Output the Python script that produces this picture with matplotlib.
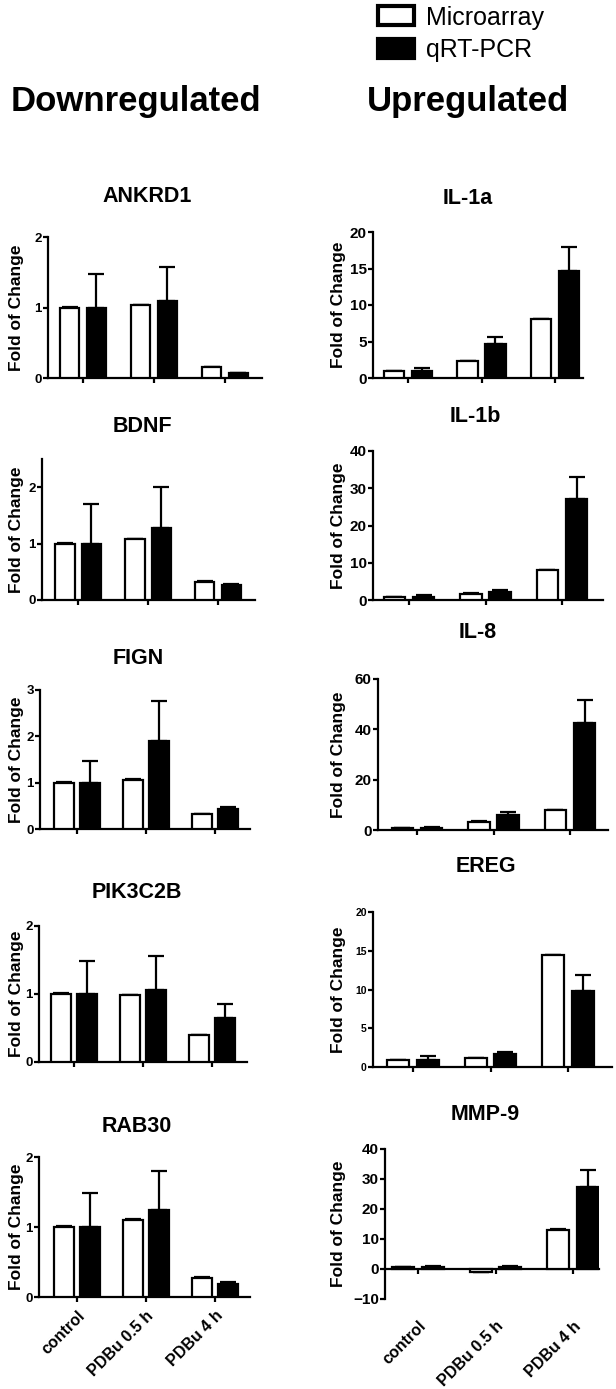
import matplotlib
matplotlib.use('Agg')
import matplotlib.pyplot as plt
from matplotlib.patches import Patch

plt.rcParams['font.family'] = ['Liberation Sans', 'DejaVu Sans']
plt.rcParams['font.weight'] = 'bold'

grupos = ['control', 'PDBu 0.5 h', 'PDBu 4 h']
series = ['Microarray', 'qRT-PCR']

# valores (Fold of Change)
genes_down = ['ANKRD1', 'BDNF', 'FIGN', 'PIK3C2B', 'RAB30']
genes_up = ['IL-1a', 'IL-1b', 'IL-8', 'EREG', 'MMP-9']

ankrd1_micro = [1.0, 1.03, 0.15]
ankrd1_micro_err = [0.01, 0.01, 0.01]
ankrd1_qpcr = [1.0, 1.09, 0.07]
ankrd1_qpcr_err = [0.48, 0.49, 0.0]

bdnf_micro = [1.0, 1.08, 0.32]
bdnf_micro_err = [0.01, 0.01, 0.01]
bdnf_qpcr = [1.0, 1.28, 0.26]
bdnf_qpcr_err = [0.70, 0.72, 0.02]

fign_micro = [1.0, 1.06, 0.32]
fign_micro_err = [0.01, 0.01, 0.01]
fign_qpcr = [1.0, 1.90, 0.43]
fign_qpcr_err = [0.46, 0.87, 0.04]

pik3c2b_micro = [1.0, 0.98, 0.39]
pik3c2b_micro_err = [0.01, 0.01, 0.01]
pik3c2b_qpcr = [1.0, 1.06, 0.65]
pik3c2b_qpcr_err = [0.48, 0.50, 0.20]

rab30_micro = [1.0, 1.10, 0.27]
rab30_micro_err = [0.01, 0.01, 0.01]
rab30_qpcr = [1.0, 1.24, 0.18]
rab30_qpcr_err = [0.48, 0.56, 0.04]

il1a_micro = [0.9, 2.3, 8.1]
il1a_micro_err = [0.05, 0.05, 0.05]
il1a_qpcr = [0.9, 4.7, 14.7]
il1a_qpcr_err = [0.5, 0.9, 3.3]

il1b_micro = [0.8, 1.7, 8.0]
il1b_micro_err = [0.1, 0.1, 0.1]
il1b_qpcr = [0.9, 2.2, 27.2]
il1b_qpcr_err = [0.5, 0.4, 5.8]

il8_micro = [0.8, 3.3, 7.8]
il8_micro_err = [0.1, 0.1, 0.1]
il8_qpcr = [0.9, 5.9, 42.5]
il8_qpcr_err = [0.4, 1.4, 9.0]

ereg_micro = [0.9, 1.1, 14.4]
ereg_micro_err = [0.05, 0.05, 0.05]
ereg_qpcr = [0.9, 1.7, 9.8]
ereg_qpcr_err = [0.5, 0.3, 2.1]

mmp9_micro = [0.7, -1.0, 13.0]
mmp9_micro_err = [0.1, 0.0, 0.3]
mmp9_qpcr = [0.8, 0.8, 27.5]
mmp9_qpcr_err = [0.2, 0.2, 5.5]

# escalas del eje y
ylims = [(0, 2), (0, 2.5), (0, 3), (0, 2), (0, 2),
         (0, 20), (0, 40), (0, 60), (0, 20), (-10, 40)]
yticks = [[0, 1, 2], [0, 1, 2], [0, 1, 2, 3], [0, 1, 2], [0, 1, 2],
          [0, 5, 10, 15, 20], [0, 10, 20, 30, 40], [0, 20, 40, 60],
          [0, 5, 10, 15, 20], [-10, 0, 10, 20, 30, 40]]

datos = [
    (ankrd1_micro, ankrd1_micro_err, ankrd1_qpcr, ankrd1_qpcr_err),
    (bdnf_micro, bdnf_micro_err, bdnf_qpcr, bdnf_qpcr_err),
    (fign_micro, fign_micro_err, fign_qpcr, fign_qpcr_err),
    (pik3c2b_micro, pik3c2b_micro_err, pik3c2b_qpcr, pik3c2b_qpcr_err),
    (rab30_micro, rab30_micro_err, rab30_qpcr, rab30_qpcr_err),
    (il1a_micro, il1a_micro_err, il1a_qpcr, il1a_qpcr_err),
    (il1b_micro, il1b_micro_err, il1b_qpcr, il1b_qpcr_err),
    (il8_micro, il8_micro_err, il8_qpcr, il8_qpcr_err),
    (ereg_micro, ereg_micro_err, ereg_qpcr, ereg_qpcr_err),
    (mmp9_micro, mmp9_micro_err, mmp9_qpcr, mmp9_qpcr_err),
]
nombres = genes_down + genes_up

# layout en pixeles: eje izq, fin eje x, y arriba, y abajo, primer tick, separacion,
# centro titulo x, centro titulo y, tam. ticks y
W, H = 616, 1389
layout = [
    (48, 262, 237, 378, 83, 71, 147, 197, 9.5),
    (42, 255, 459, 600, 78, 70, 142, 427, 9.5),
    (40, 250, 690, 829, 77, 69, 138, 658, 9.5),
    (39, 247, 926, 1062, 74, 69, 137, 892, 9.5),
    (39, 250, 1157, 1297, 77, 69, 137, 1127, 9.5),
    (373, 583, 232, 378, 408, 73.5, 468, 198, 11),
    (373, 603, 451, 600, 409, 76.5, 475, 417, 11),
    (378, 608, 679, 830, 417, 76.5, 478, 633, 11),
    (373, 612, 912, 1067, 413, 77.5, 486, 867, 7.5),
    (385, 599, 1149, 1299, 418, 77.5, 485, 1115, 11),
]

fig = plt.figure(figsize=(W / 100, H / 100), dpi=100)

ancho = 0.28
desp = 0.19
lw = 1.6

for i, (nombre, (m, me, q, qe), lay) in enumerate(zip(nombres, datos, layout)):
    izq, der, arr, aba, t0, sep, tx, ty, tam = lay
    ax = fig.add_axes([izq / W, 1 - aba / H, (der - izq) / W, (aba - arr) / H])
    x = list(range(len(grupos)))
    xm = [v - desp for v in x]
    xq = [v + desp for v in x]
    ax.errorbar(xm, m, yerr=[[0] * 3, me], fmt='none', ecolor='black',
                elinewidth=lw, capsize=5.5, capthick=lw, zorder=2)
    ax.errorbar(xq, q, yerr=[[0] * 3, qe], fmt='none', ecolor='black',
                elinewidth=lw, capsize=5.5, capthick=lw, zorder=2)
    ax.bar(xm, m, width=ancho, color='white', edgecolor='black', linewidth=lw, zorder=3)
    ax.bar(xq, q, width=ancho, color='black', edgecolor='black', linewidth=lw, zorder=3)

    ax.set_xlim((izq - t0) / sep, (der - t0) / sep)
    ax.set_ylim(*ylims[i])
    ax.set_yticks(yticks[i])
    ax.set_xticks(x)
    ax.spines['top'].set_visible(False)
    ax.spines['right'].set_visible(False)
    ax.spines['left'].set_linewidth(lw)
    ax.spines['bottom'].set_linewidth(lw)
    if ylims[i][0] < 0:
        ax.spines['bottom'].set_position(('data', 0))
    ax.tick_params(axis='both', direction='out', width=lw, length=3.5)
    ax.tick_params(axis='y', labelsize=tam, pad=1)
    ax.tick_params(axis='x', labelbottom=False)
    ax.set_facecolor('none')

    if i in (4, 9):
        sec = ax.secondary_xaxis(0)
        sec.set_xticks(x)
        sec.set_xticklabels(grupos, rotation=45, ha='right', rotation_mode='anchor',
                            fontsize=11.5, fontweight='bold')
        sec.tick_params(length=0, pad=8 if i == 4 else 14)
        sec.spines['bottom'].set_visible(False)

    fig.text(tx / W, 1 - ty / H, nombre, ha='center', va='center',
             fontsize=15.5, fontweight='bold')
    lx = 17 if i < 5 else 338
    fig.text(lx / W, 1 - ((arr + aba) / 2) / H, 'Fold of Change', rotation=90,
             ha='center', va='center', fontsize=12.5, fontweight='bold')

fig.text(136 / W, 1 - 101 / H, 'Downregulated', ha='center', va='center',
         fontsize=25, fontweight='bold')
fig.text(468 / W, 1 - 101 / H, 'Upregulated', ha='center', va='center',
         fontsize=25, fontweight='bold')

manijas = [Patch(facecolor='white', edgecolor='black', linewidth=3),
           Patch(facecolor='black', edgecolor='black', linewidth=3)]
fig.legend(manijas, series, loc='upper left', bbox_to_anchor=(375 / W, 1 - 3 / H),
           frameon=False, prop={'size': 18, 'weight': 'normal'},
           handlelength=1.45, handleheight=0.8, labelspacing=0.35,
           handletextpad=0.5, borderaxespad=0, borderpad=0.1)

fig.savefig('out.png', dpi=100)
